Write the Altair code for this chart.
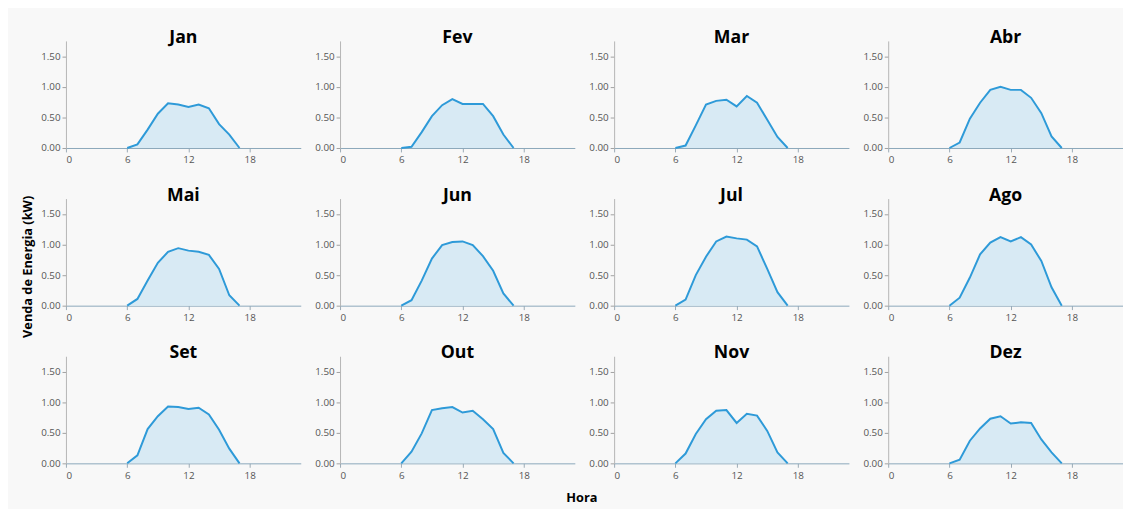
import altair as alt
import pandas as pd

months = ["Jan", "Fev", "Mar", "Abr", "Mai", "Jun", "Jul", "Ago", "Set", "Out", "Nov", "Dez"]
hours = [6, 7, 8, 9, 10, 11, 12, 13, 14, 15, 16, 17]

jan = [0, 0.06, 0.30, 0.56, 0.73, 0.71, 0.67, 0.71, 0.65, 0.39, 0.22, 0]
fev = [0, 0.02, 0.26, 0.52, 0.70, 0.80, 0.72, 0.72, 0.72, 0.52, 0.22, 0]
mar = [0, 0.04, 0.37, 0.71, 0.77, 0.79, 0.68, 0.85, 0.74, 0.46, 0.18, 0]
abr = [0, 0.09, 0.48, 0.74, 0.95, 1.00, 0.95, 0.95, 0.82, 0.57, 0.19, 0]
mai = [0, 0.11, 0.41, 0.70, 0.88, 0.94, 0.90, 0.88, 0.83, 0.60, 0.17, 0]
jun = [0, 0.09, 0.41, 0.77, 0.99, 1.04, 1.05, 0.99, 0.81, 0.57, 0.20, 0]
jul = [0, 0.10, 0.50, 0.80, 1.05, 1.13, 1.10, 1.08, 0.97, 0.60, 0.22, 0]
ago = [0, 0.13, 0.46, 0.84, 1.03, 1.12, 1.05, 1.12, 1.00, 0.73, 0.30, 0]
set_ = [0, 0.13, 0.56, 0.77, 0.93, 0.92, 0.89, 0.91, 0.80, 0.55, 0.24, 0]
out = [0, 0.19, 0.49, 0.87, 0.90, 0.92, 0.83, 0.86, 0.72, 0.56, 0.17, 0]
nov = [0, 0.16, 0.48, 0.72, 0.86, 0.87, 0.66, 0.81, 0.78, 0.53, 0.18, 0]
dez = [0, 0.06, 0.37, 0.57, 0.73, 0.77, 0.65, 0.67, 0.66, 0.39, 0.18, 0]

series = [jan, fev, mar, abr, mai, jun, jul, ago, set_, out, nov, dez]

rows = []
for m, vals in zip(months, series):
    for h, v in zip(hours, vals):
        rows.append({"Mes": m, "Hora": h, "Venda": v})
df = pd.DataFrame(rows)

FONT = "Open Sans"

base = alt.Chart(df).encode(
    x=alt.X("Hora:Q",
            scale=alt.Scale(domain=[0, 23], nice=False, zero=False),
            axis=alt.Axis(values=[0, 6, 12, 18], title=None, grid=False,
                          domainColor="#8aa6ba", tickColor="#9aa9b5", tickSize=4,
                          labelColor="#555555", labelFontSize=10, labelFont=FONT,
                          labelPadding=3)),
    y=alt.Y("Venda:Q",
            scale=alt.Scale(domain=[0, 1.75], nice=False),
            axis=alt.Axis(values=[0, 0.5, 1.0, 1.5], format=".2f", title=None, grid=False,
                          domainColor="#b5b5b5", tickColor="#a0a0a0", tickSize=4,
                          labelColor="#555555", labelFontSize=10, labelFont=FONT,
                          labelPadding=2)),
)

area = base.mark_area(color="#d8eaf4")
line = base.mark_line(color="#2e9ad8", strokeWidth=2)

grid = alt.layer(area, line).properties(width=239, height=109).facet(
    facet=alt.Facet("Mes:N", sort=months,
                    header=alt.Header(title=None, labelFontSize=18, labelFontWeight="bold",
                                      labelColor="black", labelFont=FONT, labelPadding=-6)),
    columns=4,
    spacing={"row": 22.5, "column": 14},
).resolve_axis(x="independent", y="independent").properties(
    title=alt.TitleParams("Hora", orient="bottom", anchor="middle", fontSize=13,
                          fontWeight="bold", font=FONT, color="black", offset=12)
)

chart = alt.vconcat(grid).properties(
    title=alt.TitleParams("Venda de Energia (kW)", orient="left", anchor="middle",
                          fontSize=13, fontWeight="bold", font=FONT, color="black",
                          offset=6),
    background="#f8f8f8",
    padding={"left": 14, "top": 17, "right": 0, "bottom": 2},
).configure_view(stroke=None)

chart.save("out.html", embed_options={"renderer": "svg", "actions": False})
